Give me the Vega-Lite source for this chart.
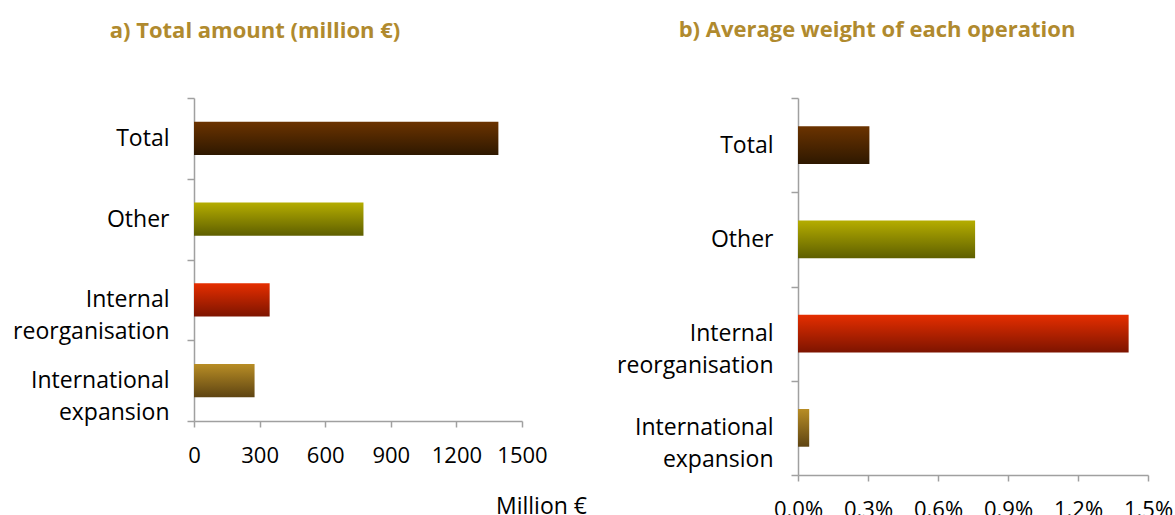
{
  "$schema": "https://vega.github.io/schema/vega-lite/v6.json",
  "background": "white",
  "padding": {"left": 12, "top": 19, "right": 0, "bottom": 0},
  "bounds": "flush",
  "spacing": 276,
  "config": {
    "font": "Open Sans",
    "view": {"stroke": null},
    "axis": {
      "grid": false,
      "domainColor": "#A0A0A0",
      "domainWidth": 1.5,
      "tickColor": "#A0A0A0",
      "tickWidth": 1.5,
      "labelColor": "#000000",
      "labelFont": "Open Sans",
      "titleFont": "Open Sans",
      "titleColor": "#000000",
      "titleFontWeight": "normal"
    },
    "title": {"font": "Open Sans", "fontWeight": "bold", "color": "#B08A2E", "fontSize": 22, "frame": "group", "anchor": "middle"}
  },
  "datasets": {
    "amount": [
      {"cat": "Total", "value": 1392},
      {"cat": "Other", "value": 775},
      {"cat": "Internal reorganisation", "value": 346},
      {"cat": "International expansion", "value": 277}
    ],
    "weight": [
      {"cat": "Total", "value": 0.00306},
      {"cat": "Other", "value": 0.00759},
      {"cat": "Internal reorganisation", "value": 0.01417},
      {"cat": "International expansion", "value": 0.00048}
    ]
  },
  "hconcat": [
    {
      "title": {"text": "a) Total amount (million €)", "dx": -103, "offset": 44},
      "width": 328,
      "height": 323,
      "data": {"name": "amount"},
      "mark": {"type": "bar", "height": {"band": 0.41}},
      "encoding": {
        "y": {
          "field": "cat", "type": "nominal",
          "sort": ["Total", "Other", "Internal reorganisation", "International expansion"],
          "scale": {"paddingInner": 0, "paddingOuter": 0},
          "axis": {
            "title": null, "tickBand": "extent", "tickSize": 7, "labelPadding": 18,
            "labelFontSize": 23, "labelLineHeight": 32,
            "labelExpr": "datum.value == 'Internal reorganisation' ? ['Internal', 'reorganisation'] : datum.value == 'International expansion' ? ['International', 'expansion'] : datum.value"
          }
        },
        "x": {
          "field": "value", "type": "quantitative",
          "scale": {"domain": [0, 1500], "nice": false},
          "axis": {
            "values": [0, 300, 600, 900, 1200, 1500], "format": "d",
            "title": "Million €", "titleFontSize": 23, "titleX": 347, "titleY": 85,
            "titleBaseline": "middle", "titleAlign": "center", "titleAnchor": null,
            "tickSize": 6, "labelPadding": 18, "labelFontSize": 22, "labelFlush": false
          }
        },
        "color": {
          "condition": [
            {"test": "datum.cat == 'Total'", "value": {"gradient": "linear", "x1": 0, "y1": 0, "x2": 0, "y2": 1, "stops": [{"offset": 0, "color": "#6B3300"}, {"offset": 1, "color": "#2E1800"}]}},
            {"test": "datum.cat == 'Other'", "value": {"gradient": "linear", "x1": 0, "y1": 0, "x2": 0, "y2": 1, "stops": [{"offset": 0, "color": "#B5AD00"}, {"offset": 1, "color": "#5E5F00"}]}},
            {"test": "datum.cat == 'Internal reorganisation'", "value": {"gradient": "linear", "x1": 0, "y1": 0, "x2": 0, "y2": 1, "stops": [{"offset": 0, "color": "#E52E00"}, {"offset": 1, "color": "#7D1400"}]}}
          ],
          "value": {"gradient": "linear", "x1": 0, "y1": 0, "x2": 0, "y2": 1, "stops": [{"offset": 0, "color": "#B88D25"}, {"offset": 1, "color": "#5E4412"}]}
        }
      }
    },
    {
      "title": {"text": "b) Average weight of each operation", "dx": -96, "offset": 45},
      "width": 350,
      "height": 377,
      "data": {"name": "weight"},
      "mark": {"type": "bar", "height": {"band": 0.4}},
      "encoding": {
        "y": {
          "field": "cat", "type": "nominal",
          "sort": ["Total", "Other", "Internal reorganisation", "International expansion"],
          "scale": {"paddingInner": 0, "paddingOuter": 0},
          "axis": {
            "title": null, "tickBand": "extent", "tickSize": 7, "labelPadding": 18,
            "labelFontSize": 23, "labelLineHeight": 32,
            "labelExpr": "datum.value == 'Internal reorganisation' ? ['Internal', 'reorganisation'] : datum.value == 'International expansion' ? ['International', 'expansion'] : datum.value"
          }
        },
        "x": {
          "field": "value", "type": "quantitative",
          "scale": {"domain": [0, 0.015], "nice": false},
          "axis": {
            "values": [0, 0.003, 0.006, 0.009, 0.012, 0.015], "format": ".1%",
            "title": null, "tickSize": 6, "labelPadding": 18, "labelFontSize": 22, "labelFlush": false
          }
        },
        "color": {
          "condition": [
            {"test": "datum.cat == 'Total'", "value": {"gradient": "linear", "x1": 0, "y1": 0, "x2": 0, "y2": 1, "stops": [{"offset": 0, "color": "#6B3300"}, {"offset": 1, "color": "#2E1800"}]}},
            {"test": "datum.cat == 'Other'", "value": {"gradient": "linear", "x1": 0, "y1": 0, "x2": 0, "y2": 1, "stops": [{"offset": 0, "color": "#B5AD00"}, {"offset": 1, "color": "#5E5F00"}]}},
            {"test": "datum.cat == 'Internal reorganisation'", "value": {"gradient": "linear", "x1": 0, "y1": 0, "x2": 0, "y2": 1, "stops": [{"offset": 0, "color": "#E52E00"}, {"offset": 1, "color": "#7D1400"}]}}
          ],
          "value": {"gradient": "linear", "x1": 0, "y1": 0, "x2": 0, "y2": 1, "stops": [{"offset": 0, "color": "#B88D25"}, {"offset": 1, "color": "#5E4412"}]}
        }
      }
    }
  ]
}
